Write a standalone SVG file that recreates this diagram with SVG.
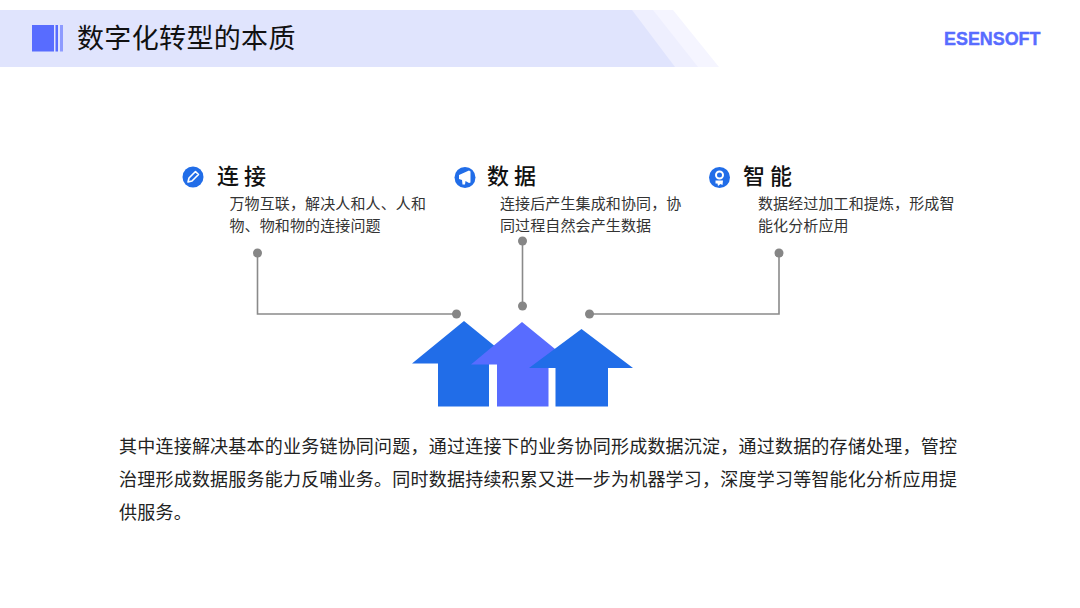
<svg xmlns="http://www.w3.org/2000/svg" width="1080" height="608" viewBox="0 0 1080 608">
<style>
text{font-family:"Noto Sans CJK SC","Noto Sans",sans-serif}
.h{font-size:22px;font-weight:500;fill:#111;letter-spacing:5px}
.d{font-size:15px;fill:#333;letter-spacing:.12px}
.b{font-size:18px;fill:#222;letter-spacing:.22px}
.c{fill:none;stroke:#8a8a8a;stroke-width:1.6}
.dot{fill:#868686}
.blue{fill:#216de8}
.vio{fill:#586cff}
.ic{fill:#216de8}
.w{fill:#fff}
</style>
<rect width="1080" height="608" fill="#fff"/>
<g id="header">
<polygon points="0,10 673,10 719,67 0,67" fill="#f5f5ff"/>
<polygon points="0,10 653,10 698,67 0,67" fill="#eeeffe"/>
<polygon points="0,10 632,10 675,67 0,67" fill="#e0e4fd"/>
<rect x="32" y="25" width="22" height="26.500" fill="#586cff"/>
<rect x="55.500" y="25" width="2.500" height="26.500" fill="#586cff"/>
<rect x="60" y="25" width="3" height="26.500" fill="#8e9bff"/>
<text x="77" y="48" font-size="27" fill="#111" style="letter-spacing:.35px">数字化转型的本质</text>
<text x="944" y="44.500" textLength="96.500" lengthAdjust="spacingAndGlyphs" style="font-family:'Liberation Sans',sans-serif;font-weight:700;font-size:18.500px;fill:#586cff;stroke:#586cff;stroke-width:.4">ESENSOFT</text>
</g>
<g id="connectors">
<path class="c" d="M257.500 253V314H457"/>
<path class="c" d="M522.500 241V306"/>
<path class="c" d="M590 314H779V253"/>
<circle class="dot" cx="257.500" cy="253" r="4.500"/>
<circle class="dot" cx="456.500" cy="314" r="4.500"/>
<circle class="dot" cx="522.500" cy="241" r="4.500"/>
<circle class="dot" cx="522.500" cy="306" r="4.500"/>
<circle class="dot" cx="589.500" cy="314" r="4.500"/>
<circle class="dot" cx="779" cy="253" r="4.500"/>
</g>
<g id="node-lianjie">
<circle class="ic" cx="193" cy="177" r="10.500"/>
<path d="M195.500 171.500l3 3-6.500 6.500-4 1 1-4z" fill="none" stroke="#fff" stroke-width="1.600" stroke-linejoin="round"/>
<text class="h" x="217" y="184">连接</text>
<text class="d" x="229.500" y="209">万物互联，解决人和人、人和</text>
<text class="d" x="229.500" y="231">物、物和物的连接问题</text>
</g>
<g id="node-shuju">
<circle class="ic" cx="465" cy="177.500" r="10.500"/>
<path class="w" d="M459 175l10-4.500 1.500 1v11l-1.500.5-3.500-2-.5 3.500h-2.500l-.5-4.500-3-1z"/>
<text class="h" x="487" y="184">数据</text>
<text class="d" x="500" y="209">连接后产生集成和协同，协</text>
<text class="d" x="500" y="231">同过程自然会产生数据</text>
</g>
<g id="node-zhineng">
<circle class="ic" cx="719.500" cy="177.500" r="10.500"/>
<circle cx="719.500" cy="175" r="3.500" fill="none" stroke="#fff" stroke-width="2"/>
<path class="w" d="M715.500 180.500h7.500l-.5 4.500-2-1-2.500 2-.5-2.500h-2z"/>
<text class="h" x="743" y="184">智能</text>
<text class="d" x="758" y="209">数据经过加工和提炼，形成智</text>
<text class="d" x="758" y="231">能化分析应用</text>
</g>
<g id="node-arrows">
<polygon class="blue" points="464,321 516,363.500 489,363.500 489,406.500 438,406.500 438,363.500 412,363.500"/>
<polygon class="vio" points="522,322 574,364.500 548.500,364.500 548.500,406.500 497,406.500 497,364.500 471,364.500"/>
<polygon class="blue" points="581.500,329 633,368 608,368 608,406.500 555.500,406.500 555.500,368 529,368"/>
</g>
<g id="body">
<text class="b" x="119" y="452.500">其中连接解决基本的业务链协同问题，通过连接下的业务协同形成数据沉淀，通过数据的存储处理，管控</text>
<text class="b" x="119" y="485.500">治理形成数据服务能力反哺业务。同时数据持续积累又进一步为机器学习，深度学习等智能化分析应用提</text>
<text class="b" x="119" y="518.500">供服务。</text>
</g>
</svg>
